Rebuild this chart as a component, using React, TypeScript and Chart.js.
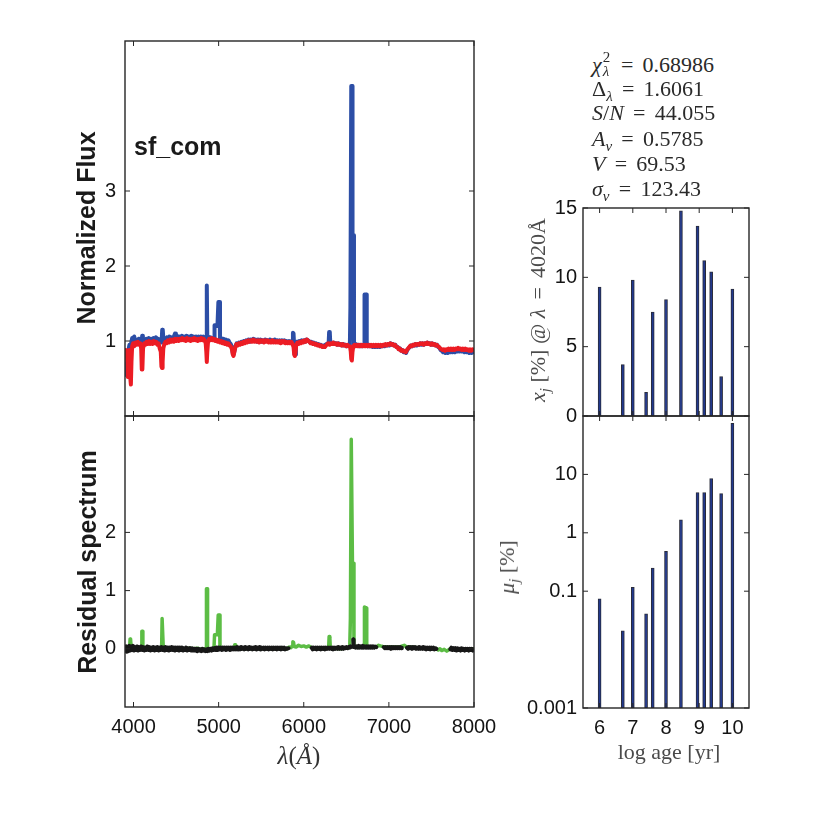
import React, { useEffect, useRef } from 'react';
import { Chart, registerables } from 'chart.js';

Chart.register(...registerables);

type Pt = [number, number | null];

// ---------- axis ticks ----------
const wavelengthTicks = [4000, 5000, 6000, 7000, 8000];
const fluxTicks = [1, 2, 3];
const residualTicks = [0, 1, 2];
const ageTicks = [6, 7, 8, 9, 10];
const lightTicks = [0, 5, 10, 15];
const massTicks = [0.001, 0.1, 1, 10];

// ---------- population vectors ----------
const logAges = [6.0, 6.7, 7.0, 7.4, 7.6, 8.0, 8.45, 8.95, 9.15, 9.36, 9.66, 10.0];
const lightFractions = [9.3, 3.7, 9.8, 1.7, 7.5, 8.4, 14.8, 13.7, 11.2, 10.4, 2.85, 9.15];
const massFractions = [0.074, 0.021, 0.116, 0.041, 0.25, 0.48, 1.67, 4.9, 4.9, 8.5, 4.7, 75];

// ---------- fit summary ----------
const statValues = ['0.68986', '1.6061', '44.055', '0.5785', '69.53', '123.43'];

// ---------- spectra [wavelength (Å), value] ----------
const observedSpectrum: Pt[] = [
  [3902, 0.62], [3908, 0.55], [3915, 0.7], [3922, 0.6], [3930, 0.78], [3936, 0.66], [3944, 0.9], [3952, 0.95],
  [3960, 0.7], [3966, 0.78], [3974, 0.98], [3984, 1.04], [3995, 1.0], [4008, 1.06], [4020, 0.99], [4034, 1.02],
  [4048, 0.98], [4062, 1.03], [4076, 0.99], [4090, 1.01], [4096, 0.97], [4102, 1.07], [4110, 0.98], [4124, 1.02],
  [4138, 0.99], [4152, 1.03], [4166, 1.0], [4180, 1.04], [4194, 1.0], [4208, 1.03], [4222, 1.0], [4236, 1.04],
  [4250, 1.01], [4264, 1.05], [4278, 1.01], [4292, 1.03], [4306, 1.0], [4320, 1.02], [4330, 0.98], [4337, 1.15],
  [4344, 1.14], [4352, 1.0], [4366, 1.04], [4380, 1.02], [4394, 1.05], [4408, 1.02], [4422, 1.06], [4436, 1.03],
  [4450, 1.05], [4464, 1.03], [4478, 1.07], [4488, 1.1], [4498, 1.04], [4512, 1.07], [4526, 1.03], [4540, 1.06],
  [4554, 1.04], [4568, 1.07], [4582, 1.04], [4596, 1.06], [4610, 1.03], [4624, 1.07], [4638, 1.04], [4652, 1.06],
  [4666, 1.04], [4680, 1.07], [4694, 1.04], [4708, 1.06], [4722, 1.03], [4736, 1.06], [4750, 1.04], [4764, 1.06],
  [4778, 1.03], [4792, 1.06], [4806, 1.04], [4820, 1.06], [4834, 1.04], [4848, 1.05], [4855, 1.03], [4861, 1.74],
  [4867, 1.03], [4878, 1.06], [4892, 1.03], [4906, 1.05], [4920, 1.02], [4934, 1.04], [4946, 1.02], [4952, 1.21],
  [4980, 1.21], [4986, 1.2], [4997, 1.52], [5010, 1.52], [5016, 1.02], [5030, 1.04], [5044, 1.01], [5058, 1.03],
  [5072, 1.0], [5086, 1.02], [5100, 0.99], [5114, 1.01], [5128, 0.98], [5142, 0.96], [5156, 0.92], [5166, 0.84],
  [5176, 0.82], [5186, 0.87], [5198, 0.93], [5212, 0.97], [5226, 0.95], [5240, 0.98], [5254, 0.96], [5268, 0.99],
  [5282, 0.97], [5296, 1.0], [5310, 0.98], [5324, 1.01], [5338, 0.99], [5352, 1.02], [5366, 0.99], [5380, 1.02],
  [5394, 1.0], [5408, 1.03], [5422, 1.0], [5436, 1.02], [5450, 0.99], [5464, 1.02], [5478, 1.0], [5492, 1.02],
  [5506, 0.99], [5520, 1.01], [5534, 0.99], [5548, 1.02], [5562, 1.0], [5576, 1.01], [5590, 0.99], [5604, 1.02],
  [5618, 0.99], [5632, 1.01], [5646, 0.99], [5660, 1.02], [5674, 1.0], [5688, 1.01], [5702, 0.99], [5716, 1.01],
  [5730, 0.98], [5744, 1.01], [5758, 0.99], [5772, 1.01], [5786, 0.98], [5800, 1.0], [5814, 0.98], [5828, 1.0],
  [5842, 0.98], [5856, 1.0], [5866, 0.99], [5873, 1.11], [5880, 1.1], [5886, 0.96], [5892, 0.82], [5900, 0.82],
  [5908, 0.95], [5920, 0.99], [5934, 0.97], [5948, 1.0], [5962, 0.98], [5976, 1.01], [5990, 0.99], [6004, 1.01],
  [6018, 0.99], [6032, 1.02], [6046, 1.01], [6060, 1.0], [6074, 0.98], [6088, 0.99], [6102, 0.97], [6116, 0.98],
  [6130, 0.96], [6144, 0.97], [6158, 0.95], [6172, 0.96], [6186, 0.94], [6200, 0.95], [6214, 0.93], [6228, 0.94],
  [6242, 0.92], [6256, 0.95], [6270, 0.96], [6284, 0.97], [6292, 0.96], [6298, 1.12], [6306, 1.11], [6312, 0.97],
  [6326, 0.98], [6340, 0.96], [6354, 0.98], [6368, 0.96], [6382, 0.97], [6396, 0.95], [6410, 0.97], [6424, 0.95],
  [6438, 0.96], [6452, 0.94], [6466, 0.96], [6480, 0.94], [6494, 0.95], [6508, 0.93], [6522, 0.95], [6534, 0.94],
  [6542, 0.97], [6548, 1.45], [6554, 1.45], [6558, 4.4], [6567, 4.4], [6573, 2.41], [6584, 2.41], [6590, 0.96],
  [6600, 0.94], [6614, 0.96], [6628, 0.94], [6642, 0.95], [6656, 0.93], [6670, 0.95], [6684, 0.93], [6698, 0.95],
  [6708, 0.95], [6714, 1.62], [6733, 1.62], [6740, 0.95], [6754, 0.93], [6768, 0.95], [6782, 0.93], [6796, 0.94],
  [6810, 0.92], [6824, 0.94], [6838, 0.92], [6852, 0.94], [6866, 0.92], [6880, 0.94], [6894, 0.92], [6908, 0.94],
  [6922, 0.93], [6936, 0.95], [6950, 0.93], [6964, 0.95], [6978, 0.94], [6992, 0.96], [7006, 0.94], [7020, 0.97],
  [7034, 0.95], [7048, 0.96], [7062, 0.94], [7076, 0.95], [7090, 0.92], [7104, 0.92], [7118, 0.89], [7132, 0.9],
  [7146, 0.87], [7160, 0.88], [7174, 0.85], [7188, 0.86], [7202, 0.84], [7216, 0.88], [7230, 0.9], [7244, 0.92],
  [7258, 0.94], [7272, 0.93], [7286, 0.95], [7300, 0.94], [7314, 0.96], [7328, 0.94], [7342, 0.96], [7356, 0.95],
  [7370, 0.97], [7384, 0.95], [7398, 0.97], [7412, 0.95], [7426, 0.97], [7440, 0.96], [7454, 0.98], [7468, 0.96],
  [7482, 0.97], [7496, 0.95], [7510, 0.97], [7524, 0.95], [7538, 0.96], [7552, 0.94], [7566, 0.95], [7580, 0.92],
  [7594, 0.91], [7608, 0.88], [7622, 0.87], [7636, 0.85], [7650, 0.86], [7664, 0.84], [7678, 0.86], [7692, 0.84],
  [7706, 0.86], [7720, 0.85], [7734, 0.87], [7748, 0.85], [7762, 0.87], [7776, 0.85], [7790, 0.87], [7804, 0.86],
  [7818, 0.88], [7832, 0.86], [7846, 0.88], [7860, 0.86], [7874, 0.87], [7888, 0.85], [7902, 0.87], [7916, 0.85],
  [7930, 0.86], [7944, 0.84], [7958, 0.86], [7972, 0.84], [7986, 0.86], [8000, 0.85],
];

const modelSpectrum: Pt[] = [
  [3902, 0.88], [3910, 0.8], [3918, 0.86], [3926, 0.74], [3933, 0.52], [3940, 0.78], [3948, 0.88], [3956, 0.8],
  [3963, 0.5], [3969, 0.42], [3976, 0.72], [3984, 0.93], [3996, 0.97], [4010, 0.93], [4024, 0.98], [4038, 0.95],
  [4052, 0.99], [4066, 0.95], [4080, 0.97], [4090, 0.9], [4097, 0.62], [4104, 0.62], [4112, 0.9], [4126, 0.97],
  [4140, 0.95], [4154, 0.99], [4168, 0.96], [4182, 1.0], [4196, 0.96], [4210, 0.99], [4224, 0.96], [4238, 1.0],
  [4252, 0.97], [4266, 0.99], [4280, 0.95], [4294, 0.97], [4308, 0.9], [4320, 0.86], [4328, 0.66], [4335, 0.64],
  [4342, 0.72], [4350, 0.9], [4362, 0.96], [4376, 0.99], [4390, 0.97], [4404, 1.01], [4418, 0.98], [4432, 1.02],
  [4446, 0.99], [4460, 1.02], [4474, 0.99], [4488, 1.03], [4502, 1.0], [4516, 1.03], [4530, 1.0], [4544, 1.03],
  [4558, 1.01], [4572, 1.04], [4586, 1.01], [4600, 1.03], [4614, 1.0], [4628, 1.04], [4642, 1.01], [4656, 1.03],
  [4670, 1.0], [4684, 1.03], [4698, 1.01], [4712, 1.04], [4726, 1.01], [4740, 1.03], [4754, 1.0], [4768, 1.03],
  [4782, 1.01], [4796, 1.04], [4810, 1.01], [4824, 1.03], [4838, 1.0], [4848, 0.97], [4855, 0.86], [4861, 0.72],
  [4867, 0.86], [4876, 1.0], [4890, 1.03], [4904, 1.01], [4918, 1.04], [4932, 1.01], [4946, 1.03], [4960, 1.0],
  [4974, 1.02], [4988, 0.99], [5002, 1.01], [5016, 0.98], [5030, 1.0], [5044, 0.97], [5058, 0.99], [5072, 0.96],
  [5086, 0.98], [5100, 0.95], [5114, 0.97], [5128, 0.94], [5142, 0.93], [5156, 0.89], [5166, 0.82], [5174, 0.8],
  [5184, 0.85], [5196, 0.92], [5210, 0.96], [5224, 0.94], [5238, 0.97], [5252, 0.95], [5266, 0.98], [5280, 0.96],
  [5294, 0.99], [5308, 0.97], [5322, 1.0], [5336, 0.98], [5350, 1.01], [5364, 0.99], [5378, 1.01], [5392, 0.99],
  [5406, 1.02], [5420, 0.99], [5434, 1.01], [5448, 0.99], [5462, 1.01], [5476, 0.98], [5490, 1.01], [5504, 0.99],
  [5518, 1.01], [5532, 0.98], [5546, 1.01], [5560, 0.99], [5574, 1.01], [5588, 0.98], [5602, 1.0], [5616, 0.98],
  [5630, 1.01], [5644, 0.98], [5658, 1.0], [5672, 0.98], [5686, 1.0], [5700, 0.98], [5714, 1.0], [5728, 0.97],
  [5742, 1.0], [5756, 0.98], [5770, 1.0], [5784, 0.97], [5798, 0.99], [5812, 0.97], [5826, 0.99], [5840, 0.97],
  [5854, 0.99], [5868, 0.96], [5880, 0.92], [5888, 0.82], [5895, 0.8], [5902, 0.84], [5912, 0.95], [5926, 0.98],
  [5940, 0.96], [5954, 0.99], [5968, 0.97], [5982, 1.0], [5996, 0.98], [6010, 1.01], [6024, 0.99], [6038, 1.02],
  [6052, 1.0], [6066, 0.99], [6080, 0.97], [6094, 0.98], [6108, 0.96], [6122, 0.97], [6136, 0.95], [6150, 0.96],
  [6164, 0.94], [6178, 0.95], [6192, 0.93], [6206, 0.94], [6220, 0.92], [6234, 0.93], [6248, 0.92], [6262, 0.94],
  [6276, 0.96], [6290, 0.97], [6304, 0.95], [6318, 0.97], [6332, 0.96], [6346, 0.98], [6360, 0.96], [6374, 0.97],
  [6388, 0.95], [6402, 0.97], [6416, 0.95], [6430, 0.96], [6444, 0.94], [6458, 0.96], [6472, 0.94], [6486, 0.95],
  [6500, 0.93], [6514, 0.95], [6528, 0.93], [6542, 0.93], [6552, 0.86], [6558, 0.76], [6565, 0.74], [6572, 0.85],
  [6582, 0.93], [6596, 0.95], [6610, 0.93], [6624, 0.95], [6638, 0.93], [6652, 0.95], [6666, 0.93], [6680, 0.95],
  [6694, 0.93], [6708, 0.95], [6722, 0.93], [6736, 0.95], [6750, 0.93], [6764, 0.95], [6778, 0.93], [6792, 0.95],
  [6806, 0.93], [6820, 0.95], [6834, 0.93], [6848, 0.95], [6862, 0.93], [6876, 0.95], [6890, 0.93], [6904, 0.95],
  [6918, 0.93], [6932, 0.95], [6946, 0.94], [6960, 0.96], [6974, 0.94], [6988, 0.96], [7002, 0.95], [7016, 0.97],
  [7030, 0.95], [7044, 0.96], [7058, 0.94], [7072, 0.95], [7086, 0.92], [7100, 0.92], [7114, 0.89], [7128, 0.9],
  [7142, 0.87], [7156, 0.88], [7170, 0.86], [7184, 0.87], [7198, 0.85], [7212, 0.88], [7226, 0.9], [7240, 0.92],
  [7254, 0.94], [7268, 0.93], [7282, 0.95], [7296, 0.94], [7310, 0.96], [7324, 0.95], [7338, 0.96], [7352, 0.95],
  [7366, 0.97], [7380, 0.96], [7394, 0.97], [7408, 0.95], [7422, 0.97], [7436, 0.96], [7450, 0.98], [7464, 0.96],
  [7478, 0.97], [7492, 0.95], [7506, 0.97], [7520, 0.95], [7534, 0.96], [7548, 0.94], [7562, 0.95], [7576, 0.93],
  [7590, 0.92], [7604, 0.9], [7618, 0.89], [7632, 0.88], [7646, 0.89], [7660, 0.87], [7674, 0.89], [7688, 0.88],
  [7702, 0.9], [7716, 0.88], [7730, 0.9], [7744, 0.88], [7758, 0.9], [7772, 0.88], [7786, 0.9], [7800, 0.89],
  [7814, 0.91], [7828, 0.89], [7842, 0.9], [7856, 0.88], [7870, 0.9], [7884, 0.88], [7898, 0.9], [7912, 0.88],
  [7926, 0.89], [7940, 0.87], [7954, 0.89], [7968, 0.87], [7982, 0.89], [8000, 0.88],
];

// residual over the full range (masked regions included)
const residualAll: Pt[] = [
  [3902, 0.0], [3920, 0.03], [3940, -0.02], [3954, 0.02], [3960, 0.17], [3966, 0.16], [3972, 0.02], [3990, 0.0],
  [4020, 0.02], [4050, -0.01], [4080, 0.01], [4094, 0.0], [4098, 0.3], [4104, 0.3], [4110, 0.0], [4140, 0.02],
  [4180, 0.0], [4220, 0.02], [4260, 0.0], [4300, 0.01], [4330, 0.0], [4336, 0.52], [4344, 0.52], [4350, 0.01],
  [4400, 0.0], [4450, 0.02], [4500, 0.0], [4550, 0.01], [4600, -0.01], [4650, 0.01], [4700, 0.0], [4750, 0.01],
  [4800, -0.01], [4852, 0.0], [4857, 1.03], [4865, 1.03], [4870, 0.0], [4900, -0.01], [4945, 0.0], [4952, 0.24],
  [4985, 0.24], [4995, 0.58], [5010, 0.58], [5016, 0.0], [5060, 0.01], [5120, 0.0], [5180, 0.01], [5190, 0.07],
  [5200, 0.07], [5206, 0.0], [5260, 0.01], [5320, 0.0], [5400, 0.01], [5480, 0.0], [5560, 0.01], [5640, 0.0],
  [5720, 0.01], [5800, 0.0], [5830, 0.03], [5850, 0.02], [5866, 0.05], [5872, 0.12], [5880, 0.11], [5888, 0.04],
  [5910, 0.03], [5940, 0.06], [5970, 0.04], [6000, 0.05], [6030, 0.03], [6060, 0.05], [6094, 0.02], [6150, 0.01],
  [6200, 0.0], [6260, 0.01], [6292, 0.01], [6298, 0.21], [6306, 0.2], [6312, 0.02], [6360, 0.01], [6420, 0.0],
  [6480, 0.01], [6540, 0.02], [6548, 0.52], [6554, 0.52], [6558, 3.6], [6566, 3.6], [6572, 1.47], [6584, 1.47],
  [6590, 0.04], [6640, 0.03], [6700, 0.03], [6708, 0.04], [6713, 0.72], [6733, 0.7], [6740, 0.04], [6800, 0.03],
  [6860, 0.04], [6880, 0.06], [6900, 0.05], [6930, 0.04], [6980, 0.03], [7050, 0.03], [7120, 0.03], [7160, 0.05],
  [7180, 0.06], [7200, 0.04], [7260, 0.03], [7340, 0.02], [7420, 0.02], [7500, 0.01], [7560, 0.0], [7580, -0.02],
  [7600, 0.0], [7620, -0.03], [7650, -0.01], [7680, -0.04], [7700, -0.02], [7720, 0.0], [7800, 0.0], [7900, -0.01],
  [8000, 0.0],
];

// residual over the fitted (unmasked) windows; null marks a masked gap
const residualFitted: Pt[] = [
  [3902, -0.02], [3912, 0.04], [3922, -0.05], [3932, 0.03], [3942, -0.04], [3952, 0.05], [3962, -0.03], [3972, 0.04],
  [3982, -0.02], [3994, 0.05], [4006, -0.03], [4018, 0.03], [4030, -0.02], [4042, 0.04], [4054, -0.03], [4066, 0.03],
  [4078, -0.02], [4090, 0.04], [4102, -0.02], [4114, 0.03], [4126, -0.03], [4138, 0.02], [4150, -0.02], [4162, 0.04],
  [4174, -0.02], [4186, 0.03], [4198, -0.03], [4210, 0.02], [4222, -0.02], [4234, 0.03], [4246, -0.03], [4258, 0.02],
  [4270, -0.02], [4282, 0.03], [4294, -0.03], [4306, 0.02], [4318, -0.02], [4330, 0.03], [4342, -0.02], [4354, 0.02],
  [4366, -0.03], [4378, 0.03], [4390, -0.02], [4402, 0.02], [4414, -0.03], [4426, 0.02], [4438, -0.02], [4450, 0.03],
  [4462, -0.02], [4474, 0.02], [4486, -0.03], [4498, 0.02], [4510, -0.02], [4522, 0.02], [4534, -0.03], [4546, 0.02],
  [4558, -0.02], [4570, 0.02], [4582, -0.03], [4594, 0.01], [4606, -0.02], [4618, 0.02], [4630, -0.03], [4642, 0.01],
  [4654, -0.02], [4666, 0.01], [4678, -0.03], [4690, 0.01], [4702, -0.03], [4714, 0.0], [4726, -0.03], [4738, 0.0],
  [4750, -0.04], [4762, 0.0], [4774, -0.03], [4786, -0.01], [4798, -0.04], [4810, 0.0], [4822, -0.03], [4834, -0.01],
  [4846, -0.04], [4858, -0.01], [4870, -0.04], [4882, 0.0], [4894, -0.03], [4906, 0.0], [4918, -0.03], [4930, 0.01],
  [4942, -0.02], [4954, 0.01], [4966, -0.02], [4978, 0.02], [4990, -0.02], [5002, 0.02], [5014, -0.01], [5026, 0.02],
  [5038, -0.02], [5050, 0.02], [5062, -0.01], [5074, 0.02], [5086, -0.02], [5098, 0.02], [5110, -0.01], [5122, 0.02],
  [5134, -0.02], [5146, 0.02], [5158, -0.01], [5170, 0.02], [5182, -0.01], [5194, 0.02], [5206, -0.01], [5218, 0.03],
  [5230, -0.01], [5242, 0.02], [5254, -0.01], [5266, 0.03], [5278, 0.0], [5290, 0.02], [5302, -0.01], [5314, 0.03],
  [5326, 0.0], [5338, 0.02], [5350, -0.01], [5362, 0.03], [5374, 0.0], [5386, 0.02], [5398, -0.01], [5410, 0.02],
  [5422, 0.0], [5434, 0.03], [5446, -0.01], [5458, 0.02], [5470, 0.0], [5482, 0.03], [5494, -0.01], [5506, 0.02],
  [5518, 0.0], [5530, 0.02], [5542, -0.01], [5554, 0.02], [5566, 0.0], [5578, 0.02], [5590, -0.01], [5602, 0.02],
  [5614, 0.0], [5626, 0.02], [5638, -0.01], [5650, 0.02], [5662, 0.0], [5674, 0.02], [5686, -0.01], [5698, 0.02],
  [5710, 0.0], [5722, 0.02], [5734, -0.01], [5746, 0.02], [5758, 0.0], [5770, 0.02], [5782, -0.01], [5794, 0.01],
  [5806, 0.0], [5820, 0.01], [5823, null],
  [6094, 0.02], [6106, -0.01], [6118, 0.02], [6130, 0.0], [6142, 0.02], [6154, -0.01], [6166, 0.02], [6178, 0.0],
  [6190, 0.02], [6202, -0.01], [6214, 0.02], [6226, 0.0], [6238, 0.02], [6250, -0.01], [6262, 0.02], [6274, 0.0],
  [6286, 0.02], [6298, 0.0], [6310, 0.02], [6322, 0.0], [6334, 0.02], [6346, -0.01], [6358, 0.02], [6370, 0.0],
  [6382, 0.02], [6394, 0.0], [6406, 0.03], [6418, 0.0], [6430, 0.02], [6442, 0.0], [6454, 0.03], [6466, 0.0],
  [6478, 0.02], [6490, 0.01], [6502, 0.03], [6514, 0.01], [6526, 0.03], [6538, 0.02], [6548, 0.04], [6556, 0.03],
  [6560, null],
  [6581, 0.16], [6586, 0.03], [6598, 0.05], [6610, 0.02], [6622, 0.04], [6634, 0.02], [6646, 0.05], [6658, 0.02],
  [6670, 0.04], [6682, 0.02], [6694, 0.05], [6706, 0.02], [6718, 0.04], [6730, 0.02], [6742, 0.04], [6754, 0.02],
  [6766, 0.04], [6778, 0.02], [6790, 0.04], [6802, 0.02], [6814, 0.04], [6826, 0.02], [6838, 0.04], [6852, 0.03],
  [6856, null],
  [6940, 0.03], [6952, 0.01], [6964, 0.03], [6976, 0.01], [6988, 0.03], [7000, 0.01], [7012, 0.03], [7024, 0.0],
  [7036, 0.03], [7048, 0.01], [7060, 0.03], [7072, 0.01], [7084, 0.03], [7096, 0.01], [7108, 0.03], [7120, 0.01],
  [7132, 0.03], [7144, 0.01], [7152, 0.02], [7155, null],
  [7212, 0.02], [7224, 0.0], [7236, 0.03], [7248, 0.01], [7260, 0.03], [7272, 0.0], [7284, 0.03], [7296, 0.01],
  [7308, 0.03], [7320, 0.0], [7332, 0.02], [7344, 0.0], [7356, 0.03], [7368, 0.0], [7380, 0.02], [7392, 0.0],
  [7404, 0.03], [7416, 0.0], [7428, 0.02], [7440, -0.01], [7452, 0.02], [7464, 0.0], [7476, 0.02], [7488, -0.01],
  [7500, 0.02], [7512, 0.0], [7524, 0.02], [7536, -0.01], [7548, 0.01], [7558, 0.0], [7562, null],
  [7722, -0.01], [7734, 0.02], [7746, -0.02], [7758, 0.01], [7770, -0.02], [7782, 0.01], [7794, -0.03], [7806, 0.01],
  [7818, -0.02], [7830, 0.0], [7842, -0.03], [7854, 0.01], [7866, -0.02], [7878, 0.0], [7890, -0.03], [7902, 0.0],
  [7914, -0.02], [7926, 0.0], [7938, -0.03], [7950, 0.0], [7962, -0.02], [7974, 0.0], [7986, -0.03], [8000, -0.01],
];

// ---------- styling ----------
const SANS = '"Liberation Sans", Arial, Helvetica, sans-serif';
const SERIF = '"Liberation Serif", "Times New Roman", serif';
const OBS_BLUE = '#2c4ea6';
const MODEL_RED = '#ec1c24';
const RESID_GREEN = '#5cbd45';
const FIT_BLACK = '#171717';
const BAR_FILL = '#22398e';
const BAR_EDGE = '#2a2c3a';
const TICK_COLOR = '#141414';
const tickFont = { family: SANS, size: 20 };

type Box = { x: number; y: number; w: number; h: number };

const toXY = (pts: Pt[]) => pts.map(([x, y]) => ({ x, y }));

const fixedTicks = (values: number[]) => (scale: any) => {
  scale.ticks = values.map((v) => ({ value: v }));
};

const fixedSize = (size: number) => (scale: any) => {
  if (scale.isHorizontal()) scale.height = size;
  else scale.width = size;
  scale.paddingTop = 0;
  scale.paddingBottom = 0;
  scale.paddingLeft = 0;
  scale.paddingRight = 0;
};

// box outline plus inward tick marks on all four sides
const axesFrame = {
  id: 'axesFrame',
  afterDatasetsDraw(chart: any) {
    const { ctx, chartArea: a } = chart;
    const xs = chart.scales.x;
    const ys = chart.scales.y;
    const len = 5;
    ctx.save();
    ctx.strokeStyle = '#262626';
    ctx.lineWidth = 1.4;
    ctx.strokeRect(a.left, a.top, a.right - a.left, a.bottom - a.top);
    ctx.lineWidth = 1;
    ctx.beginPath();
    for (const t of xs.ticks) {
      const p = xs.getPixelForValue(t.value);
      ctx.moveTo(p, a.bottom);
      ctx.lineTo(p, a.bottom - len);
      ctx.moveTo(p, a.top);
      ctx.lineTo(p, a.top + len);
    }
    for (const t of ys.ticks) {
      const p = ys.getPixelForValue(t.value);
      ctx.moveTo(a.left, p);
      ctx.lineTo(a.left + len, p);
      ctx.moveTo(a.right, p);
      ctx.lineTo(a.right - len, p);
    }
    ctx.stroke();
    ctx.restore();
  },
};

function axis(opts: {
  type: string;
  min: number;
  max: number;
  ticks: number[];
  size: number;
  labels: boolean;
  padding: number;
}) {
  return {
    type: opts.type,
    min: opts.min,
    max: opts.max,
    offset: false,
    afterBuildTicks: fixedTicks(opts.ticks),
    afterFit: fixedSize(opts.size),
    grid: { display: false, drawTicks: false, offset: false },
    border: { display: false },
    ticks: {
      display: opts.labels,
      font: tickFont,
      color: TICK_COLOR,
      padding: opts.padding,
      autoSkip: false,
      maxRotation: 0,
      minRotation: 0,
      callback: (v: number) => String(v),
    },
  };
}

function baseOptions(pad: { top: number; right: number; bottom: number; left: number }) {
  return {
    animation: false,
    responsive: false,
    maintainAspectRatio: false,
    layout: { padding: pad },
    plugins: { legend: { display: false }, tooltip: { enabled: false }, title: { display: false } },
    elements: {
      point: { radius: 0 },
      line: { tension: 0, borderJoinStyle: 'round', borderCapStyle: 'round' },
    },
  };
}

function lineSet(pts: Pt[], color: string, width: number, order: number) {
  return {
    data: toXY(pts),
    borderColor: color,
    backgroundColor: color,
    borderWidth: width,
    pointRadius: 0,
    fill: false,
    spanGaps: false,
    order,
  };
}

function barSet(values: number[]) {
  return {
    data: logAges.map((a, i) => ({ x: a, y: values[i] })),
    backgroundColor: BAR_FILL,
    borderColor: BAR_EDGE,
    borderWidth: 1,
    borderSkipped: false,
    barThickness: 3,
  };
}

// ---------- panel layout (page pixels) ----------
const fluxBox: Box = { x: 20, y: 20, w: 480, h: 420 };
const residBox: Box = { x: 20, y: 400, w: 500, h: 380 };
const lightBox: Box = { x: 500, y: 190, w: 280, h: 250 };
const massBox: Box = { x: 500, y: 400, w: 280, h: 380 };

const fluxConfig = () => ({
  type: 'line',
  data: {
    datasets: [
      lineSet(observedSpectrum, OBS_BLUE, 4, 2),
      lineSet(modelSpectrum, MODEL_RED, 4, 1),
    ],
  },
  options: {
    ...baseOptions({ top: 21, right: 26, bottom: 24, left: 0 }),
    scales: {
      x: axis({ type: 'linear', min: 3900, max: 8000, ticks: wavelengthTicks, size: 0, labels: false, padding: 0 }),
      y: axis({ type: 'linear', min: 0, max: 5, ticks: fluxTicks, size: 105, labels: true, padding: 9 }),
    },
  },
  plugins: [axesFrame],
});

const residConfig = () => ({
  type: 'line',
  data: {
    datasets: [
      lineSet(residualAll, RESID_GREEN, 3.5, 2),
      lineSet(residualFitted, FIT_BLACK, 4, 1),
    ],
  },
  options: {
    ...baseOptions({ top: 16, right: 46, bottom: 0, left: 0 }),
    scales: {
      x: axis({ type: 'linear', min: 3900, max: 8000, ticks: wavelengthTicks, size: 73, labels: true, padding: 8 }),
      y: axis({ type: 'linear', min: -1, max: 4, ticks: residualTicks, size: 105, labels: true, padding: 9 }),
    },
  },
  plugins: [axesFrame],
});

const lightConfig = () => ({
  type: 'bar',
  data: { datasets: [barSet(lightFractions)] },
  options: {
    ...baseOptions({ top: 18, right: 31, bottom: 24, left: 0 }),
    scales: {
      x: axis({ type: 'linear', min: 5.5, max: 10.5, ticks: ageTicks, size: 0, labels: false, padding: 0 }),
      y: axis({ type: 'linear', min: 0, max: 15, ticks: lightTicks, size: 83, labels: true, padding: 6 }),
    },
  },
  plugins: [axesFrame],
});

const massConfig = () => ({
  type: 'bar',
  data: { datasets: [barSet(massFractions)] },
  options: {
    ...baseOptions({ top: 16, right: 31, bottom: 0, left: 0 }),
    scales: {
      x: axis({ type: 'linear', min: 5.5, max: 10.5, ticks: ageTicks, size: 72, labels: true, padding: 8 }),
      y: axis({ type: 'logarithmic', min: 0.001, max: 100, ticks: massTicks, size: 83, labels: true, padding: 6 }),
    },
  },
  plugins: [axesFrame],
});

function ChartCanvas({ box, config }: { box: Box; config: () => any }) {
  const ref = useRef<HTMLCanvasElement>(null);
  useEffect(() => {
    const chart = new Chart(ref.current as HTMLCanvasElement, config());
    return () => chart.destroy();
  }, [config]);
  return (
    <canvas
      ref={ref}
      width={box.w}
      height={box.h}
      style={{ position: 'absolute', left: box.x, top: box.y, width: box.w, height: box.h }}
    />
  );
}

// ---------- text helpers ----------
const Sub = ({ children, italic = true }: { children: React.ReactNode; italic?: boolean }) => (
  <span style={{ fontSize: '0.68em', verticalAlign: '-0.35em', lineHeight: 0, fontStyle: italic ? 'italic' : 'normal' }}>
    {children}
  </span>
);

const SupSub = ({ sup, sub, width }: { sup: string; sub: string; width: number }) => (
  <span style={{ display: 'inline-block', position: 'relative', width, height: 0 }}>
    <span style={{ position: 'absolute', left: 1, top: -22, fontSize: 15, lineHeight: '15px', fontStyle: 'normal' }}>{sup}</span>
    <span style={{ position: 'absolute', left: 1, top: -8, fontSize: 15, lineHeight: '15px', fontStyle: 'italic' }}>{sub}</span>
  </span>
);

// relation sign with the wider spacing of typeset math
const Eq = () => <span style={{ margin: '0 0.42em' }}>=</span>;

function Rotated({ cx, cy, style, children }: { cx: number; cy: number; style: React.CSSProperties; children: React.ReactNode }) {
  return (
    <div
      style={{
        position: 'absolute',
        left: cx,
        top: cy,
        transform: 'translate(-50%, -50%) rotate(-90deg)',
        whiteSpace: 'nowrap',
        ...style,
      }}
    >
      {children}
    </div>
  );
}

function Centered({ cx, cy, style, children }: { cx: number; cy: number; style: React.CSSProperties; children: React.ReactNode }) {
  return (
    <div style={{ position: 'absolute', left: cx, top: cy, transform: 'translate(-50%, -50%)', whiteSpace: 'nowrap', ...style }}>
      {children}
    </div>
  );
}

const boldLabel: React.CSSProperties = { font: `bold 25px ${SANS}`, color: '#1a1a1a', lineHeight: '28px' };
const mathLabel: React.CSSProperties = { fontFamily: SERIF, fontSize: 22, color: '#4a4a4a', lineHeight: '26px' };
const statStyle: React.CSSProperties = { fontFamily: SERIF, fontSize: 22, color: '#2a2a2a', lineHeight: '26px' };

const statCenters = [65, 89, 113.5, 139.5, 164, 189.5];
const statSymbols: React.ReactNode[] = [
  <><i>χ</i><SupSub sup="2" sub="λ" width={10} /></>,
  <>Δ<Sub>λ</Sub></>,
  <><i>S</i>/<i>N</i></>,
  <><i>A</i><Sub>v</Sub></>,
  <><i>V</i></>,
  <><i>σ</i><Sub>v</Sub></>,
];

export default function App() {
  return (
    <div style={{ position: 'absolute', left: 0, top: 0, width: 834, height: 834, background: '#ffffff', overflow: 'hidden' }}>
      <ChartCanvas box={fluxBox} config={fluxConfig} />
      <ChartCanvas box={residBox} config={residConfig} />
      <ChartCanvas box={lightBox} config={lightConfig} />
      <ChartCanvas box={massBox} config={massConfig} />

      <div style={{ position: 'absolute', left: 134, top: 134, whiteSpace: 'nowrap', ...boldLabel, lineHeight: '24px' }}>sf_com</div>
      <Rotated cx={86} cy={228} style={boldLabel}>Normalized Flux</Rotated>
      <Rotated cx={87} cy={562} style={boldLabel}>Residual spectrum</Rotated>

      <Centered cx={299} cy={756} style={{ ...mathLabel, fontSize: 25, color: '#333' }}>
        <i>λ</i>(<i>Å</i>)
      </Centered>
      <Centered cx={669} cy={752} style={mathLabel}>log age [yr]</Centered>

      <Rotated cx={538} cy={310} style={{ ...mathLabel, fontSize: 22 }}>
        <i>x</i><Sub>j</Sub> [%] @ <i>λ</i><Eq />4020Å
      </Rotated>
      <Rotated cx={507} cy={567} style={mathLabel}>
        <i>μ</i><Sub>j</Sub> [%]
      </Rotated>

      {statValues.map((v, i) => (
        <div key={i} style={{ position: 'absolute', left: 592, top: statCenters[i] - 13.4, whiteSpace: 'nowrap', ...statStyle }}>
          {statSymbols[i]}<Eq />{v}
        </div>
      ))}
    </div>
  );
}
